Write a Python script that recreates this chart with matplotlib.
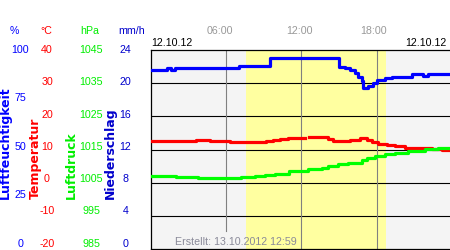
import numpy as np
import matplotlib
matplotlib.use("Agg")
import matplotlib.pyplot as plt

plt.rcParams["font.family"] = ["Liberation Sans", "DejaVu Sans"]

nan = np.nan

humid_t = [0, 1.3, 1.6, 1.9, 7.0, 9.5, 12.35, 12.6, 15.0, 15.5, 15.9, 16.3, 16.55, 16.8,
           16.95, 17.35, 17.75, 18.0, 18.65, 19.2, 20.8, 21.7, 22.1, 23.85]
humid_v = [89.8, 90.8, 89.8, 90.8, 91.8, 95.8, nan, 95.8, 91.6, 90.8, 89.9, 88.3, 86.3, 84.4,
           81.1, 82.1, 83.3, 84.9, 86.1, 86.6, 87.8, 86.9, 87.8, 87.8]

temp_t = [0, 3.63, 4.7, 6.29, 7.49, 9.21, 9.75, 10.28, 10.94, 12.3, 12.6, 14.15, 14.55,
          15.88, 16.68, 17.21, 17.6, 18.14, 18.8, 19.47, 20.26, 21.06, 21.7, 22.39, 23.19, 23.85]
temp_v = [12.56, 12.86, 12.56, 12.36, 12.26, 12.56, 12.86, 13.2, 13.45, nan, 13.68, 13.07, 12.65,
          12.96, 13.47, 12.8, 12.17, 11.75, 11.45, 11.05, 10.54, 10.36, 10.54, 10.15, 9.75, 9.75]

pres_t = [0, 1.11, 2.04, 3.77, 5.9, 6.43, 7.2, 8.3, 9.1, 9.9, 11.0, 11.8, 12.56, 13.62, 14.15,
          14.95, 15.74, 16.8, 17.2, 17.87, 18.67, 19.47, 20.53, 21.86, 22.92, 23.85]
pres_v = [1007.1, 1006.9, 1006.7, 1006.5, 1006.3, 1006.5, 1006.7, 1006.9, 1007.2, 1007.7, 1008.4,
          1008.5, 1009.0, 1009.5, 1010.0, 1010.5, 1011.0, 1011.8, 1012.5, 1013.0, 1013.5, 1014.0,
          1014.5, 1015.1, 1015.4, 1015.4]

daylight = (7.6, 18.72)
hours = [6, 12, 18]
hour_labels = ["06:00", "12:00", "18:00"]

hum_labels = ["100", "75", "50", "25", "0"]
temp_labels = ["40", "30", "20", "10", "0", "-10", "-20"]
pres_labels = ["1045", "1035", "1025", "1015", "1005", "995", "985"]
rain_labels = ["24", "20", "16", "12", "8", "4", "0"]

W, H = 450, 250
fig = plt.figure(figsize=(4.5, 2.5), dpi=100)


def fx(x):
    return x / W


def fy(y):
    return 1 - y / H


ax = fig.add_axes([fx(150.7), fy(249), fx(W - 150.7), 199 / H])
ax.set_facecolor("#f4f4f4")
ax.set_xlim(0, 23.85)
ax.set_ylim(0, 100)
ax.axvspan(daylight[0], daylight[1], color="#ffffa0", lw=0, zorder=0)
for i in range(1, 6):
    ax.axhline(i * 100 / 6, color="black", lw=0.8, zorder=1)
for h in hours:
    ymin = 0.09 if h == 6 else 0
    ax.axvline(h, ymin=ymin, color="#808080", lw=0.8, zorder=1)
ax.set_xticks([])
ax.set_yticks([])
ax.spines["right"].set_visible(False)
for s in ["top", "left", "bottom"]:
    ax.spines[s].set_linewidth(0.9)

ax.plot(humid_t, humid_v, color="#0000ff", lw=2.3, drawstyle="steps-post", zorder=3)

ax_t = ax.twinx()
ax_t.set_ylim(-20, 40)
ax_t.plot(temp_t, temp_v, color="#ff0000", lw=2.3, drawstyle="steps-post")

ax_p = ax.twinx()
ax_p.set_ylim(985, 1045)
ax_p.plot(pres_t, pres_v, color="#00ff00", lw=2.3, drawstyle="steps-post")

for a in [ax_t, ax_p]:
    a.set_xlim(0, 23.85)
    a.axis("off")

fs = 7.7
# Kopfzeile der Achsen
fig.text(fx(14), fy(30.7), "%", color="#0000ff", fontsize=fs, ha="center", va="center")
fig.text(fx(46.5), fy(30.7), "°C", color="#ff0000", fontsize=fs, ha="center", va="center")
fig.text(fx(90), fy(30.7), "hPa", color="#00ee00", fontsize=fs, ha="center", va="center")
fig.text(fx(132), fy(30.7), "mm/h", color="#0000cc", fontsize=fs, ha="center", va="center")

for i, lab in enumerate(hum_labels):
    fig.text(fx(20.5), fy(50 + i * 48.4), lab, color="#0000ff", fontsize=fs, ha="center", va="center")
for i in range(7):
    y = fy(50 + i * 32.3)
    fig.text(fx(47), y, temp_labels[i], color="#ff0000", fontsize=fs, ha="center", va="center")
    fig.text(fx(91), y, pres_labels[i], color="#00ee00", fontsize=fs, ha="center", va="center")
    fig.text(fx(125.5), y, rain_labels[i], color="#0000cc", fontsize=fs, ha="center", va="center")

# gedrehte Achsentitel
for x, txt, c in [(5, "Luftfeuchtigkeit", "#0000ff"), (35, "Temperatur", "#ff0000"),
                  (71.5, "Luftdruck", "#00ee00"), (110, "Niederschlag", "#0000cc")]:
    fig.text(fx(x), fy(199), txt, color=c, fontsize=9, fontweight="bold", family="DejaVu Sans",
             rotation=90, rotation_mode="anchor", ha="left", va="center")

for x, lab in zip([220, 299, 374], hour_labels):
    fig.text(fx(x), fy(30.7), lab, color="#999999", fontsize=fs, ha="center", va="center")

fig.text(fx(151.7), fy(43.3), "12.10.12", color="black", fontsize=fs, ha="left", va="center")
fig.text(fx(446), fy(43.3), "12.10.12", color="black", fontsize=fs, ha="right", va="center")
fig.text(fx(175), fy(241.7), "Erstellt: 13.10.2012 12:59", color="#8a8a99", fontsize=fs,
         ha="left", va="center")

fig.savefig("out.png", dpi=100)
